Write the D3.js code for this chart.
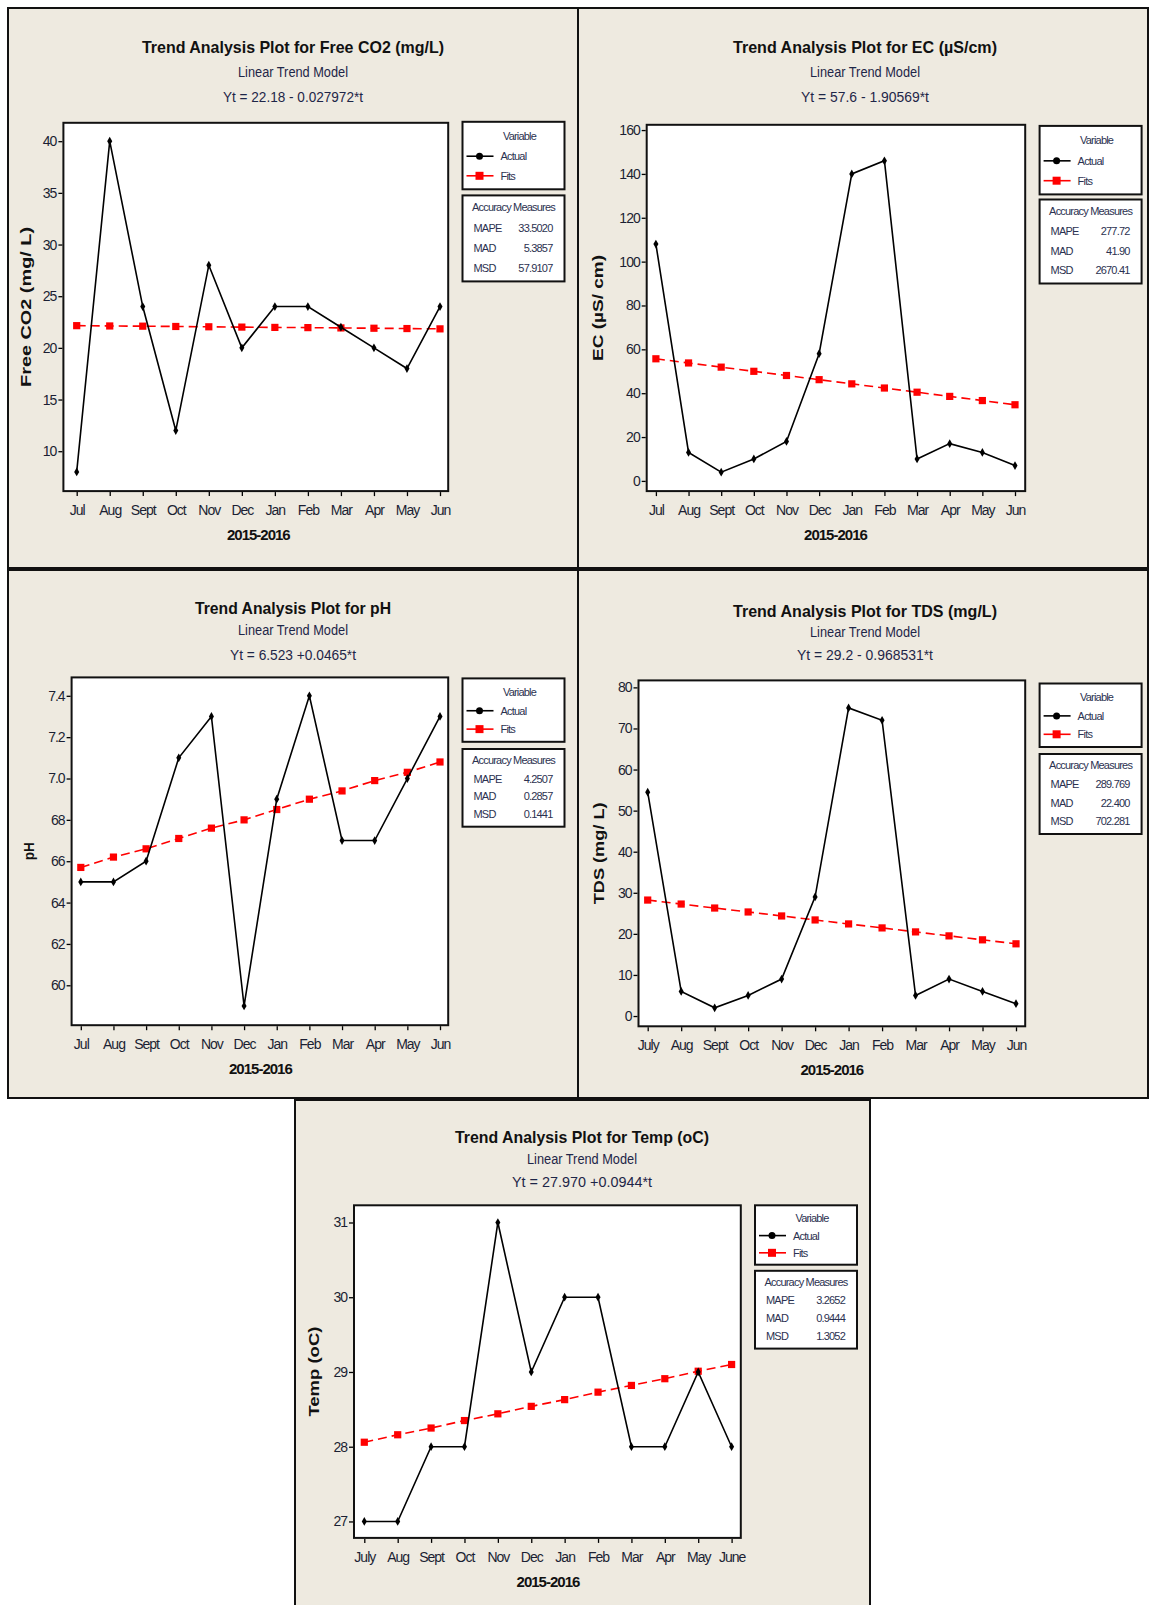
<!DOCTYPE html>
<html lang="en">
<head>
<meta charset="UTF-8">
<title>Trend Analysis Plots</title>
<script src="https://cdn.jsdelivr.net/npm/d3@7"></script>
<style>
  body { margin: 0; background: #fff; }
  svg { display: block; font-family: "Liberation Sans", Arial, sans-serif; }
  .tick text { font-size: 14px; letter-spacing: -1px; fill: #1b1f33; }
  .tick line { stroke: #000; stroke-width: 1.3px; }
  .frame { fill: #fff; stroke: #111; stroke-width: 2px; }
  .panel { fill: #eeeae0; stroke: #111; stroke-width: 2px; }
  .actual { fill: none; stroke: #000; stroke-width: 1.6px; }
  .fits { fill: none; stroke: #ff0000; stroke-width: 1.6px; stroke-dasharray: 9 5; }
  .leg text { font-size: 11px; letter-spacing: -0.8px; fill: #2b3150; }
  .title { font-size: 17px; font-weight: bold; fill: #111; }
  .sub { font-size: 14px; fill: #1e2648; }
  .ylab { font-size: 15px; font-weight: bold; fill: #111; }
  .xlab { font-size: 15px; font-weight: bold; fill: #111; letter-spacing: -1px; }
</style>
</head>
<body>
<script>
// mois (2015-2016)
var monthsA = ["Jul", "Aug", "Sept", "Oct", "Nov", "Dec", "Jan", "Feb", "Mar", "Apr", "May", "Jun"];
var monthsB = ["July", "Aug", "Sept", "Oct", "Nov", "Dec", "Jan", "Feb", "Mar", "Apr", "May", "Jun"];
var monthsC = ["July", "Aug", "Sept", "Oct", "Nov", "Dec", "Jan", "Feb", "Mar", "Apr", "May", "June"];
var accNames = ["MAPE", "MAD", "MSD"];

// Free CO2
var co2Actual = [8, 40, 24, 12, 28, 20, 24, 24, 22, 20, 18, 24];
var co2Fits = [22.15, 22.12, 22.10, 22.07, 22.04, 22.01, 21.98, 21.96, 21.93, 21.90, 21.87, 21.84];
var co2Ticks = [10, 15, 20, 25, 30, 35, 40];
var co2Acc = ["33.5020", "5.3857", "57.9107"];

// EC
var ecActual = [108, 13, 4, 10, 18, 58, 140, 146, 10, 17, 13, 7];
var ecFits = [55.69, 53.79, 51.88, 49.98, 48.07, 46.17, 44.26, 42.36, 40.45, 38.54, 36.64, 34.73];
var ecTicks = [0, 20, 40, 60, 80, 100, 120, 140, 160];
var ecAcc = ["277.72", "41.90", "2670.41"];

// pH
var phActual = [6.5, 6.5, 6.6, 7.1, 7.3, 5.9, 6.9, 7.4, 6.7, 6.7, 7.0, 7.3];
var phFits = [6.57, 6.62, 6.66, 6.71, 6.76, 6.80, 6.85, 6.90, 6.94, 6.99, 7.03, 7.08];
var phTicks = [6.0, 6.2, 6.4, 6.6, 6.8, 7.0, 7.2, 7.4];
var phTickLabels = ["60", "62", "64", "66", "68", "7.0", "7.2", "7.4"];
var phAcc = ["4.2507", "0.2857", "0.1441"];

// TDS
var tdsActual = [54.5, 6, 2, 5, 9, 29, 75, 72, 5, 9, 6, 3];
var tdsFits = [28.23, 27.26, 26.29, 25.33, 24.36, 23.39, 22.42, 21.45, 20.48, 19.51, 18.55, 17.58];
var tdsTicks = [0, 10, 20, 30, 40, 50, 60, 70, 80];
var tdsAcc = ["289.769", "22.400", "702.281"];

// Temp
var tempActual = [27, 27, 28, 28, 31, 29, 30, 30, 28, 28, 29, 28];
var tempFits = [28.06, 28.16, 28.25, 28.35, 28.44, 28.54, 28.63, 28.73, 28.82, 28.91, 29.01, 29.10];
var tempTicks = [27, 28, 29, 30, 31];
var tempTickLabels = ["27", "28", "29", "30", "31"];
var tempAcc = ["3.2652", "0.9444", "1.3052"];

var panels = [
  { title: "Trend Analysis Plot for Free CO2 (mg/L)", tl: 302, eq: "Yt = 22.18 - 0.027972*t", el: 140,
    ylab: "Free CO2 (mg/ L)", yl: 160, months: monthsA, actual: co2Actual, fits: co2Fits,
    ticks: co2Ticks, acc: co2Acc,
    box: [8, 8, 578, 568], cx: 293, ty: [47, 71.5, 97],
    plot: [63.4, 122.8, 448.2, 491.1], xr: [76.7, 440], yd: [6.14, 41.78],
    leg: [462.5, 121.8, 67.5, 195.4, 86], ylx: 25.6 },
  { title: "Trend Analysis Plot for EC (\u00b5S/cm)", tl: 264, eq: "Yt = 57.6 - 1.90569*t", el: 128,
    ylab: "EC (\u00b5S/ cm)", yl: 106, months: monthsA, actual: ecActual, fits: ecFits,
    ticks: ecTicks, acc: ecAcc,
    box: [578, 8, 1148, 568], cx: 865, ty: [47, 71.5, 97],
    plot: [646.7, 124.8, 1025.2, 491.1], xr: [655.9, 1015], yd: [-4.65, 162.4],
    leg: [1039.6, 125.9, 68.5, 199.5, 84], ylx: 597.5 },
  { title: "Trend Analysis Plot for pH", tl: 196, eq: "Yt = 6.523 +0.0465*t", el: 126,
    ylab: "pH", yl: 18, months: monthsA, actual: phActual, fits: phFits,
    ticks: phTicks, tickLabels: phTickLabels, acc: phAcc,
    box: [8, 570, 578, 1098], cx: 293, ty: [607.8, 630.3, 654.8],
    plot: [71.6, 677.4, 448.2, 1025.2], xr: [80.8, 440], yd: [5.807, 7.489],
    leg: [462.5, 678.4, 63.4, 749, 77.7], ylx: 28.6 },
  { title: "Trend Analysis Plot for TDS (mg/L)", tl: 264, eq: "Yt = 29.2 - 0.968531*t", el: 136,
    ylab: "TDS (mg/ L)", yl: 102, months: monthsB, actual: tdsActual, fits: tdsFits,
    ticks: tdsTicks, acc: tdsAcc,
    box: [578, 570, 1148, 1098], cx: 865, ty: [610.8, 632.3, 654.8],
    plot: [638.5, 680.4, 1025.2, 1026.3], xr: [647.7, 1016], yd: [-2.5, 81.7],
    leg: [1039.6, 683.5, 63.5, 754, 80], ylx: 598.6 },
  { title: "Trend Analysis Plot for Temp (oC)", tl: 254, eq: "Yt = 27.970 +0.0944*t", el: 140,
    ylab: "Temp (oC)", yl: 90, months: monthsC, actual: tempActual, fits: tempFits,
    ticks: tempTicks, tickLabels: tempTickLabels, acc: tempAcc,
    box: [295, 1100, 870, 1612], cx: 582, ty: [1136.8, 1159.3, 1181.8],
    plot: [354, 1205.3, 740.8, 1537.9], xr: [364.3, 731.6], yd: [26.78, 31.23],
    leg: [755, 1205.3, 59.4, 1270.8, 77.8], ylx: 314 }
];

var svg = d3.select("body").append("svg")
  .attr("width", 1149).attr("height", 1605);

function drawLegend(g, p) {
  var L = p.leg, x = L[0], y = L[1], h = L[2], ay = L[3], ah = L[4], w = 102;
  var lg = g.append("g").attr("class", "leg");
  lg.append("rect").attr("class", "frame").attr("x", x).attr("y", y).attr("width", w).attr("height", h);
  lg.append("text").attr("x", x + 57).attr("y", y + 0.21 * h + 4).attr("text-anchor", "middle").text("Variable");

  var ya = y + 0.51 * h, yf = y + 0.80 * h;
  lg.append("line").attr("x1", x + 4).attr("x2", x + 31).attr("y1", ya).attr("y2", ya)
    .attr("stroke", "#000").attr("stroke-width", 1.6);
  lg.append("circle").attr("cx", x + 17).attr("cy", ya).attr("r", 3.5).attr("fill", "#000");
  lg.append("text").attr("x", x + 38).attr("y", ya + 4).text("Actual");

  lg.append("line").attr("x1", x + 4).attr("x2", x + 31).attr("y1", yf).attr("y2", yf)
    .attr("stroke", "#ff0000").attr("stroke-width", 1.6);
  lg.append("rect").attr("x", x + 13).attr("y", yf - 4).attr("width", 8).attr("height", 8).attr("fill", "#ff0000");
  lg.append("text").attr("x", x + 38).attr("y", yf + 4).text("Fits");

  lg.append("rect").attr("class", "frame").attr("x", x).attr("y", ay).attr("width", w).attr("height", ah);
  lg.append("text").attr("x", x + 51).attr("y", ay + 0.14 * ah + 4).attr("text-anchor", "middle").text("Accuracy Measures");
  var rows = [0.38, 0.61, 0.84];
  accNames.forEach(function (n, i) {
    lg.append("text").attr("x", x + 11).attr("y", ay + rows[i] * ah + 4).text(n);
    lg.append("text").attr("x", x + 90).attr("y", ay + rows[i] * ah + 4).attr("text-anchor", "end").text(p.acc[i]);
  });
}

function drawPanel(p) {
  var g = svg.append("g");
  var b = p.box, P = p.plot;

  g.append("rect").attr("class", "panel")
    .attr("x", b[0]).attr("y", b[1]).attr("width", b[2] - b[0]).attr("height", b[3] - b[1]);

  // titres
  g.append("text").attr("class", "title").attr("x", p.cx).attr("y", p.ty[0] + 6)
    .attr("text-anchor", "middle").attr("textLength", p.tl).attr("lengthAdjust", "spacingAndGlyphs").text(p.title);
  g.append("text").attr("class", "sub").attr("x", p.cx).attr("y", p.ty[1] + 5)
    .attr("text-anchor", "middle").attr("textLength", 110).attr("lengthAdjust", "spacingAndGlyphs").text("Linear Trend Model");
  g.append("text").attr("class", "sub").attr("x", p.cx).attr("y", p.ty[2] + 5)
    .attr("text-anchor", "middle").attr("textLength", p.el).attr("lengthAdjust", "spacingAndGlyphs").text(p.eq);

  g.append("rect").attr("class", "frame")
    .attr("x", P[0]).attr("y", P[1]).attr("width", P[2] - P[0]).attr("height", P[3] - P[1]);

  var x = d3.scalePoint().domain(p.months).range(p.xr);
  var y = d3.scaleLinear().domain(p.yd).range([P[3], P[1]]);

  var yAxis = d3.axisLeft(y).tickValues(p.ticks).tickSize(4).tickPadding(2);
  if (p.tickLabels) yAxis.tickFormat(function (d, i) { return p.tickLabels[i]; });
  g.append("g").attr("transform", "translate(" + (P[0] - 1) + ",0)").call(yAxis)
    .call(function (a) { a.select(".domain").remove(); });

  g.append("g").attr("transform", "translate(0," + (P[3] + 1) + ")")
    .call(d3.axisBottom(x).tickSize(4).tickPadding(9))
    .call(function (a) { a.select(".domain").remove(); });

  g.append("text").attr("class", "xlab").attr("x", (p.xr[0] + p.xr[1]) / 2).attr("y", P[3] + 49)
    .attr("text-anchor", "middle").text("2015-2016");

  g.append("text").attr("class", "ylab")
    .attr("transform", "translate(" + p.ylx + "," + ((P[1] + P[3]) / 2) + ") rotate(-90)")
    .attr("text-anchor", "middle").attr("dy", "0.35em")
    .attr("textLength", p.yl).attr("lengthAdjust", "spacingAndGlyphs").text(p.ylab);

  var line = d3.line()
    .x(function (d, i) { return x(p.months[i]); })
    .y(function (d) { return y(d); });

  g.append("path").attr("class", "fits").attr("d", line(p.fits));
  g.selectAll(".fpt").data(p.fits).enter().append("path")
    .attr("d", d3.symbol().type(d3.symbolSquare).size(52))
    .attr("transform", function (d, i) { return "translate(" + x(p.months[i]) + "," + y(d) + ")"; })
    .attr("fill", "#ff0000");

  g.append("path").attr("class", "actual").attr("d", line(p.actual));
  g.selectAll(".apt").data(p.actual).enter().append("path")
    .attr("d", d3.symbol().type(d3.symbolDiamond).size(22))
    .attr("transform", function (d, i) { return "translate(" + x(p.months[i]) + "," + y(d) + ")"; })
    .attr("fill", "#000");

  drawLegend(g, p);
}

panels.forEach(drawPanel);
</script>
</body>
</html>
